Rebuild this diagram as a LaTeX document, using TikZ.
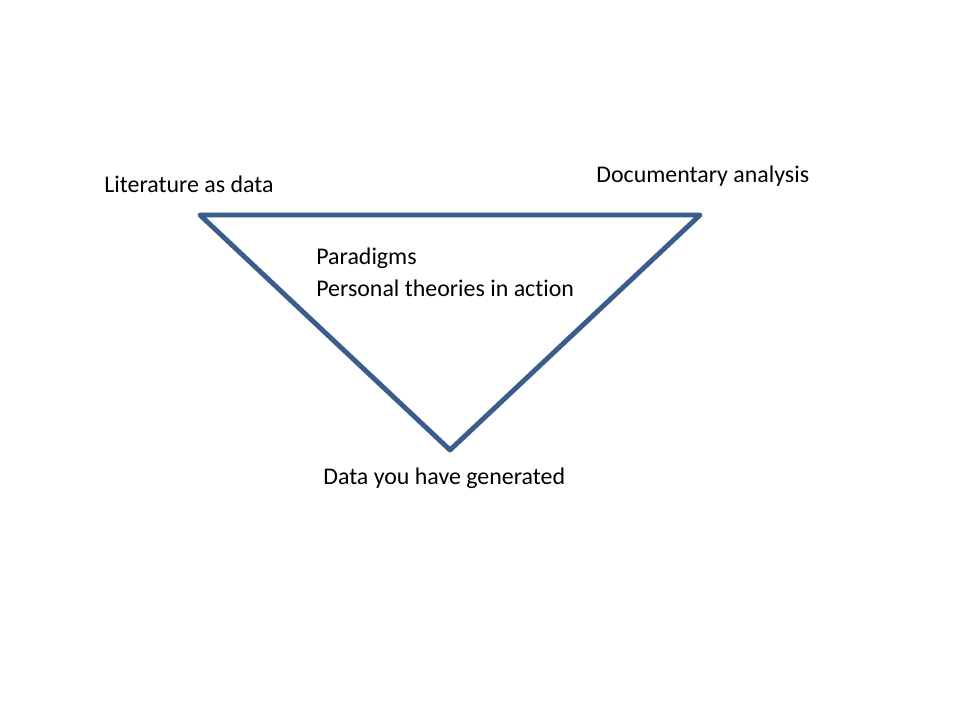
\documentclass[tikz,border=0pt]{standalone}
\usepackage{fontspec}
\setmainfont[Ligatures={NoCommon}]{Carlito}
\usetikzlibrary{positioning}

\begin{document}
\begin{tikzpicture}[x=0.02cm,y=-0.02cm,
                    every node/.style={font=\fontsize{13.6pt}{16pt}\selectfont,inner sep=0pt,anchor=west},
                    tri/.style={draw=triblue,line width=2.8pt,line join=round}
]
\definecolor{triblue}{HTML}{3A5E8C}
\useasboundingbox (0,0) rectangle (960,720);

\coordinate (lit) at (200,215);
\coordinate (doc) at (700,215);
\coordinate (gen) at (450,450);
%
\draw [tri] (lit) -- (doc) -- (gen) -- cycle;

\node at (104,184) (litlabel) {Literature as data};
\node at (596,176) (doclabel) {Documentary analysis};
\node at (316,258) (para) {Paradigms};
\node at (316,288) (theo) {Personal theories in action};
\node at (323,478) (genlabel) {Data you have generated};
\end{tikzpicture}
\end{document}
